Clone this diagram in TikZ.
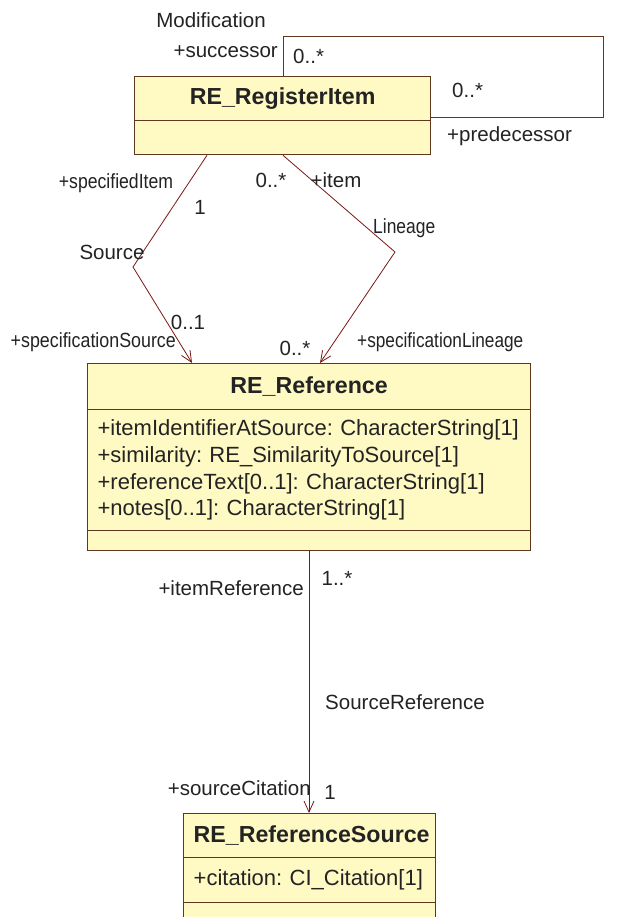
\documentclass[tikz,border=0pt]{standalone}
\usepackage{graphicx}
\usepackage{fontspec}
\setmainfont{Liberation Sans}
\usetikzlibrary{arrows.meta}
\definecolor{boxfill}{RGB}{255,249,196}
\definecolor{boxline}{RGB}{95,55,30}
\definecolor{assoc}{RGB}{120,25,20}
\definecolor{txt}{RGB}{35,35,35}
\frenchspacing
\newcommand\sqz[2]{\scalebox{#1}[1]{#2}}
\begin{document}
\begin{tikzpicture}[x=1pt,y=-1pt,
  comp/.style={draw=boxline, fill=boxfill, line width=1.3pt, anchor=north west,
    inner xsep=10pt, inner ysep=0pt, text=txt, font=\fontsize{22}{26.7}\selectfont},
  namecomp/.style={comp, align=center, font=\fontsize{23.2}{26.7}\selectfont\bfseries},
  attrcomp/.style={comp, align=left},
  lbl/.style={inner sep=0pt, text=txt, font=\fontsize{20.5}{24}\selectfont},
  assocline/.style={draw=assoc, line width=0.8pt},
  nav/.style={-{Straight Barb[length=11pt,width=10pt,line width=0.8pt]}}
]
\useasboundingbox (0,0) rectangle (635,917);
\clip (0,0) rectangle (635,917);
\fill[white] (0,0) rectangle (635,917);

% RE_RegisterItem
\node[namecomp, text width=276pt, minimum height=44pt] (riname) at (134,76) {RE\_RegisterItem};
\node[attrcomp, text width=276pt, minimum height=34pt] (riempty) at (134,120) {};

% RE_Reference
\node[namecomp, text width=423pt, minimum height=46pt] (refname) at (87,363) {RE\_Reference};
\node[attrcomp, text width=423pt, minimum height=121pt] (refattr) at (87,409)
  {+itemIdentifierAtSource: CharacterString[1]\\
   +similarity: RE\_SimilarityToSource[1]\\
   +referenceText[0..1]: CharacterString[1]\\
   +notes[0..1]: CharacterString[1]};
\node[attrcomp, text width=423pt, minimum height=20pt] (refempty) at (87,530) {};

% RE_ReferenceSource
\node[namecomp, text width=232pt, minimum height=44pt] (srcname) at (183,813) {RE\_ReferenceSource};
\node[attrcomp, text width=232pt, minimum height=45pt] (srcattr) at (183,857) {+citation: CI\_Citation[1]};
\node[attrcomp, text width=232pt, minimum height=30pt] (srcempty) at (183,902) {};

% connector bend points
\coordinate (loopc) at (603,36);
\coordinate (srcbend) at (133,267);
\coordinate (linbend) at (395,252);

% Modification (self association)
\draw[draw=boxline, line width=0.9pt] ([xshift=149pt]riname.north west) |- (loopc) |- ([yshift=4pt]riname.south east);

% Source
\draw[assocline, nav] ([xshift=73pt]riempty.south west) -- (srcbend) -- ([xshift=105pt]refname.north west);

% Lineage
\draw[assocline, nav] ([xshift=149pt]riempty.south west) -- (linbend) -- ([xshift=233pt]refname.north west);

% SourceReference
\draw[assocline, nav] ([xshift=222pt]refempty.south west) -- ([xshift=126pt]srcname.north west);

% labels
\node[lbl] (lmod) at (211,20) {Modification};
\node[lbl, anchor=east] (lsucc) at (278,52) {+successor};
\node[lbl, anchor=west] (lsm) at (293,56) {0..*};
\node[lbl, anchor=west] (lpm) at (452,90) {0..*};
\node[lbl, anchor=west] (lpred) at (447,136) {+predecessor};

\node[lbl] (lspecitem) at (116,183) {\sqz{0.86}{+specifiedItem}};
\node[lbl] (lone) at (200,207) {1};
\node[lbl] (lsource) at (112,252) {Source};
\node[lbl] (lzo) at (188,322) {0..1};
\node[lbl, anchor=east] (lspecsrc) at (176,342) {\sqz{0.87}{+specificationSource}};

\node[lbl] (litemm) at (271,180) {0..*};
\node[lbl] (litem) at (336,180) {+item};
\node[lbl, anchor=west] (llin) at (373,228) {\sqz{0.85}{Lineage}};
\node[lbl] (llinm) at (295,348) {0..*};
\node[lbl, anchor=west] (lspeclin) at (357,342) {\sqz{0.84}{+specificationLineage}};

\node[lbl, anchor=east] (litemref) at (304,588) {+itemReference};
\node[lbl] (lirm) at (337,578) {1..*};
\node[lbl] (lsrcref) at (405,702) {SourceReference};
\node[lbl, anchor=east] (lsrccit) at (311,788) {+sourceCitation};
\node[lbl] (lsrcm) at (330,792) {1};
\end{tikzpicture}
\end{document}
